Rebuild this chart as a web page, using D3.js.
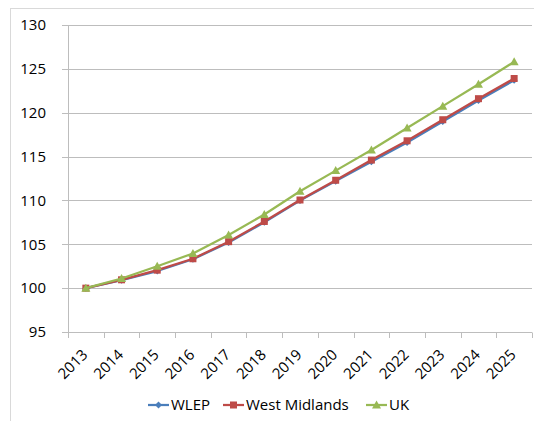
<!DOCTYPE html>
<html>
<head>
<meta charset="utf-8">
<script src="https://cdn.jsdelivr.net/npm/d3@7"></script>
<style>
html,body{margin:0;padding:0;background:#fff;}
svg{display:block;}
text{font-family:"Open Sans",sans-serif;fill:#000;}
</style>
</head>
<body>
<script>
const years = ["2013","2014","2015","2016","2017","2018","2019","2020","2021","2022","2023","2024","2025"];
const wlep = [100, 100.9, 101.95, 103.3, 105.2, 107.5, 110.0, 112.2, 114.4, 116.6, 119.0, 121.4, 123.7];
const westMidlands = [100, 100.95, 102.05, 103.35, 105.3, 107.6, 110.05, 112.3, 114.6, 116.8, 119.2, 121.6, 123.9];
const uk = [100, 101.1, 102.5, 103.95, 106.05, 108.4, 111.05, 113.4, 115.75, 118.25, 120.75, 123.25, 125.8];
const yTicks = [95, 100, 105, 110, 115, 120, 125, 130];
const seriesNames = ["WLEP", "West Midlands", "UK"];
const seriesColors = ["#4a7ebb", "#be4b48", "#98b954"];

(function () {
const W = 534, H = 421;
const svg = d3.select("body").append("svg").attr("width", W).attr("height", H);

// outer frame
svg.append("rect").attr("x", 10.5).attr("y", 8.5).attr("width", 540).attr("height", 440)
  .attr("fill", "none").attr("stroke", "#d9d9d9").attr("stroke-width", 1);

const pLeft = 68, pRight = 532, pTop = 25, pBottom = 332;
const x = d3.scaleBand().domain(years).range([pLeft, pRight]).padding(0);
const y = d3.scaleLinear().domain([95, 130]).range([pBottom, pTop]);

// gridlines
svg.append("g").selectAll("line").data(yTicks).join("line")
  .attr("x1", pLeft - 6).attr("x2", pRight)
  .attr("y1", d => Math.round(y(d)) + 0.5).attr("y2", d => Math.round(y(d)) + 0.5)
  .attr("stroke", "#bdbdbd").attr("stroke-width", 1);

// y axis line
svg.append("line").attr("x1", pLeft + 0.5).attr("x2", pLeft + 0.5)
  .attr("y1", y(130)).attr("y2", Math.round(y(95)) + 0.5)
  .attr("stroke", "#bdbdbd");

// y labels
svg.append("g").selectAll("text").data(yTicks).join("text")
  .attr("x", 46).attr("y", d => y(d)).attr("dy", "0.35em")
  .attr("text-anchor", "end").attr("font-size", 15)
  .text(d => d);

// x tick marks at band boundaries
const bounds = years.map(d => x(d)).concat([pRight]);
svg.append("g").selectAll("line").data(bounds).join("line")
  .attr("x1", d => Math.round(d) + 0.5).attr("x2", d => Math.round(d) + 0.5)
  .attr("y1", Math.round(y(95)) + 0.5).attr("y2", Math.round(y(95)) + 6)
  .attr("stroke", "#bdbdbd");

// x labels
svg.append("g").selectAll("text").data(years).join("text")
  .attr("transform", d => `translate(${x(d) + x.bandwidth() / 2 - 1},352) rotate(-45)`)
  .attr("text-anchor", "end").attr("dy", "0.35em").attr("font-size", 15)
  .text(d => d);

const cx = d => x(d) + x.bandwidth() / 2;
const allSeries = [wlep, westMidlands, uk];
const line = d3.line().x((d, i) => cx(years[i])).y(d => y(d));

function drawMarker(g, type, color, px, py) {
  if (type === 0) {
    g.append("path").attr("d", `M${px},${py - 3.5}L${px + 3.5},${py}L${px},${py + 3.5}L${px - 3.5},${py}Z`)
      .attr("fill", color);
  } else if (type === 1) {
    g.append("rect").attr("x", px - 3.5).attr("y", py - 3.5).attr("width", 7).attr("height", 7)
      .attr("fill", color);
  } else {
    g.append("path").attr("d", `M${px},${py - 4.5}L${px + 4.5},${py + 3.5}L${px - 4.5},${py + 3.5}Z`)
      .attr("fill", color);
  }
}

allSeries.forEach((vals, si) => {
  const g = svg.append("g");
  g.append("path").datum(vals).attr("d", line).attr("fill", "none")
    .attr("stroke", seriesColors[si]).attr("stroke-width", 2.25).attr("stroke-linejoin", "round");
  vals.forEach((v, i) => drawMarker(g, si, seriesColors[si], cx(years[i]), y(v)));
});

// legend
const legendX = [148, 223, 366];
const ly = 405;
seriesNames.forEach((name, si) => {
  const g = svg.append("g");
  g.append("line").attr("x1", legendX[si]).attr("x2", legendX[si] + 21).attr("y1", ly).attr("y2", ly)
    .attr("stroke", seriesColors[si]).attr("stroke-width", 2.25);
  drawMarker(g, si, seriesColors[si], legendX[si] + 10.5, ly);
  g.append("text").attr("x", legendX[si] + 23).attr("y", ly).attr("dy", "0.35em")
    .attr("font-size", 15).text(name);
});
})();
</script>
</body>
</html>
